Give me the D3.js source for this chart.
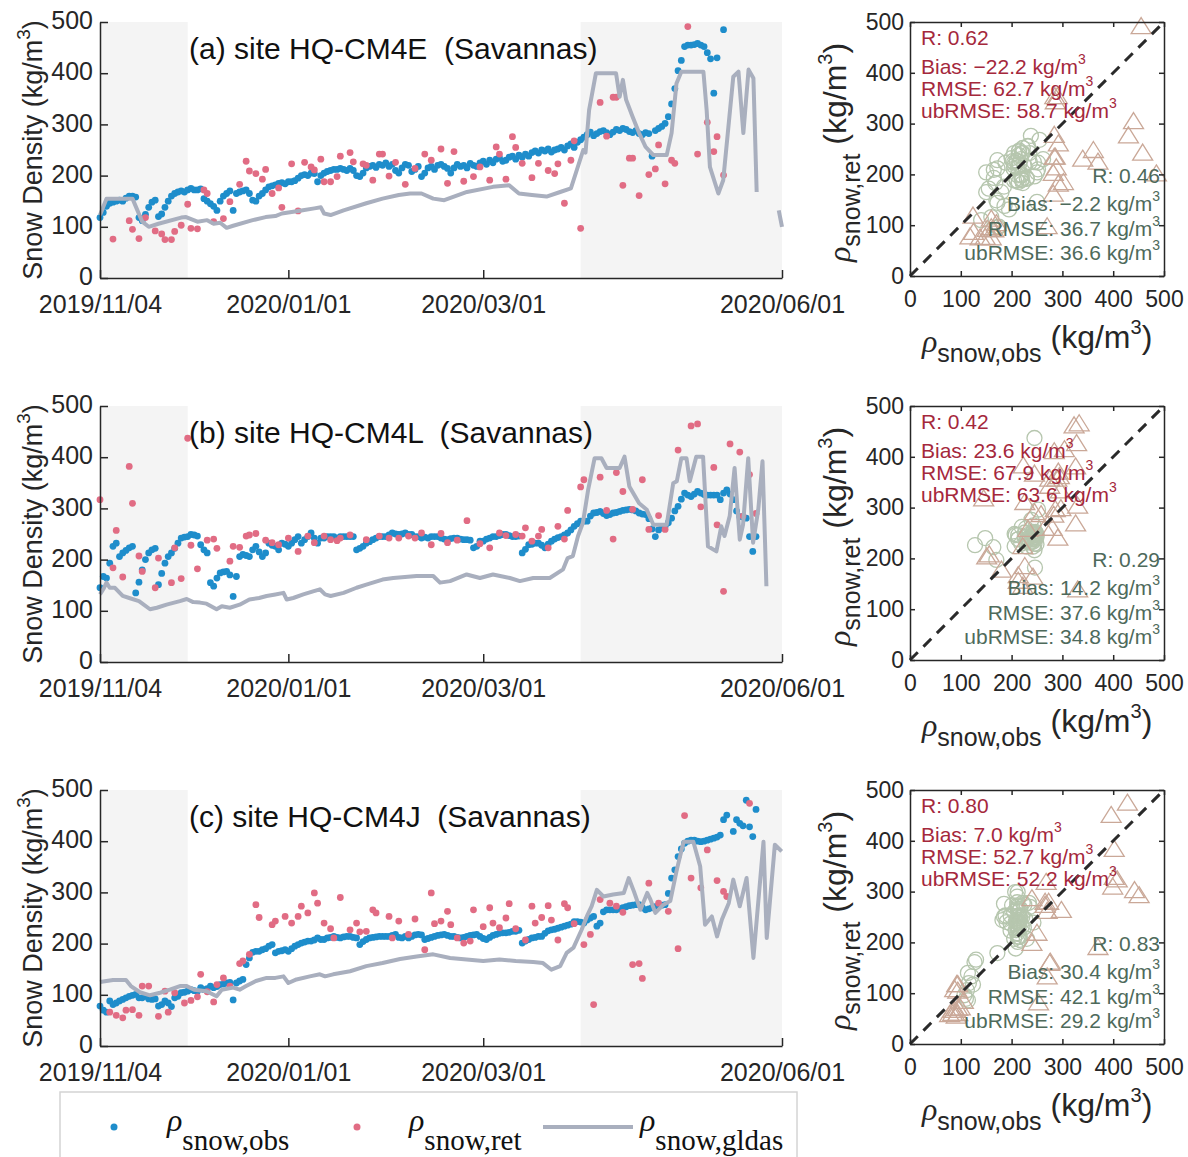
<!DOCTYPE html>
<html>
<head>
<meta charset="utf-8">
<script src="https://cdn.jsdelivr.net/npm/d3@7"></script>
<style>
  body { margin: 0; background: #fff; }
  svg { display: block; font-family: "Liberation Sans", Arial, sans-serif; }
</style>
</head>
<body>
<svg id="fig" width="1188" height="1157"></svg>
<script>
// ---- data ----
const dateTicks = ["2019/11/04", "2020/01/01", "2020/03/01", "2020/06/01"];
const densityTicks = [0, 100, 200, 300, 400, 500];
const shadePeriods = [["2019/11/04", "2019/12/01"], ["2020/03/31", "2020/06/01"]];
const titles = ["(a) site HQ-CM4E  (Savannas)", "(b) site HQ-CM4L  (Savannas)", "(c) site HQ-CM4J  (Savannas)"];

// observed density, one value per day from 2019/11/04
const obsA = [118,128,140,146,148,150,152,150,156,160,
  160,158,118,112,124,138,148,152,120,125,
  138,150,160,165,168,170,168,172,175,172,
  172,174,155,150,145,140,132,150,160,165,
  170,132,165,168,170,172,165,152,150,160,
  165,172,178,180,182,185,186,184,188,188,
  190,195,200,202,200,205,204,188,200,205,
  208,210,212,212,214,212,210,214,210,200,
  198,205,215,218,220,216,222,220,225,218,
  222,210,205,215,222,220,208,212,218,198,
  205,215,218,212,220,222,218,214,205,215,
  222,218,220,215,224,220,218,225,228,222,
  230,225,232,235,228,230,236,238,232,240,
  236,242,238,245,248,244,250,248,252,246,
  250,252,255,250,258,262,255,265,270,275,
  280,285,278,282,286,288,284,280,285,290,
  288,292,290,286,284,288,282,280,284,282,
  238,288,292,296,302,315,340,370,405,425,
  452,455,455,456,458,455,452,440,428,361,
  430,null,485];
const obsB = [145,167,164,193,226,232,206,213,218,223,
  226,135,156,180,200,213,219,222,151,173,
  193,206,213,222,232,242,244,245,249,248,
  246,229,219,213,155,148,164,174,176,177,
  170,128,167,206,210,208,206,219,226,215,
  206,213,232,228,226,219,232,230,226,232,
  239,245,232,239,245,252,242,232,242,242,
  245,245,245,242,245,245,245,245,245,219,
  222,226,232,235,239,242,245,245,245,248,
  252,250,249,250,252,249,249,245,245,242,
  244,242,245,245,245,242,240,239,241,242,
  242,240,239,239,238,223,226,236,236,240,
  242,245,245,247,249,249,247,245,245,246,
  213,220,229,230,232,232,228,223,230,236,
  240,243,245,248,252,258,265,270,275,275,
  275,285,291,292,294,290,286,288,291,292,
  294,296,297,298,297,295,291,289,288,280,
  260,245,258,262,265,272,281,295,304,318,
  330,326,323,328,333,330,327,326,326,326,
  326,317,330,336,328,317,295,284,283,281,
  245,216,245];
const obsC = [78,70,66,88,81,84,88,91,94,97,
  99,101,94,94,97,92,91,92,78,81,
  88,84,77,94,97,104,105,107,110,108,
  107,114,110,112,117,114,116,120,121,123,
  124,90,123,127,130,159,172,183,185,185,
  188,190,195,198,182,185,186,188,185,190,
  195,198,201,203,205,205,207,211,208,208,
  211,212,214,212,211,213,214,214,212,211,
  198,204,208,211,212,213,214,214,214,214,
  216,218,212,211,214,211,214,217,218,217,
  208,210,212,214,216,217,218,216,214,214,
  212,211,212,214,216,217,218,214,210,208,
  212,216,218,220,221,221,222,224,224,226,
  201,205,208,211,212,214,214,220,225,227,
  228,230,232,234,236,238,243,243,242,240,
  246,250,253,234,240,262,266,266,266,266,
  268,270,272,274,275,276,276,270,266,268,
  270,272,273,275,276,298,328,344,370,385,
  396,400,402,402,400,399,400,402,404,406,
  408,412,442,451,null,419,442,435,430,480,
  428,409,462];

// retrieved density, [day, value]
const retA = [[4,76],[9,112],[10,95],[12,77],[14,118],[17,92],[19,86],[20,75],[22,75],[23,91],[25,103],[27,144],[28,97],[30,96],[32,172],[33,165],[35,110],[38,116],[40,149],[43,183],[45,228],[46,209],[48,204],[50,193],[51,212],[53,165],[55,176],[56,138],[59,223],[61,131],[63,226],[65,217],[66,211],[68,232],[69,188],[71,188],[73,198],[74,238],[77,245],[78,227],[81,223],[82,220],[84,191],[86,242],[87,242],[89,199],[91,226],[94,183],[97,214],[100,242],[102,230],[105,252],[107,185],[109,247],[112,189],[115,198],[117,217],[120,191],[122,256],[123,242],[125,193],[127,276],[128,255],[130,224],[133,196],[135,224],[138,210],[140,204],[141,223],[143,146],[145,230],[146,268],[148,97],[154,343],[156,277],[158,353],[159,353],[161,181],[163,234],[164,234],[166,161],[169,202],[171,213],[172,260],[174,184],[176,230],[177,224],[181,491],[184,242],[187,304],[189,247],[190,276],[192,201]];
const retB = [[0,317],[4,184],[5,257],[7,166],[9,382],[10,310],[12,207],[13,177],[17,145],[18,203],[22,155],[23,223],[25,163],[27,437],[28,228],[30,182],[33,238],[35,240],[36,222],[40,197],[41,226],[43,224],[45,246],[46,248],[48,251],[51,238],[53,233],[55,229],[58,242],[61,216],[64,246],[66,233],[69,246],[71,239],[73,237],[74,242],[77,248],[82,239],[86,246],[89,242],[92,242],[95,246],[97,242],[99,252],[102,229],[105,251],[107,233],[110,238],[113,276],[117,231],[120,223],[123,252],[125,247],[128,249],[130,246],[131,262],[133,236],[135,246],[136,259],[138,223],[141,265],[143,240],[144,296],[148,342],[149,356],[154,361],[156,296],[158,240],[159,370],[161,333],[164,298],[167,356],[169,259],[172,286],[174,259],[178,414],[182,461],[184,465],[185,303],[189,380],[190,268],[192,138],[194,426],[197,410],[198,285],[200,366],[202,290]];
const retC = [[3,66],[5,60],[7,55],[8,70],[10,71],[12,60],[13,117],[15,117],[18,58],[20,107],[21,66],[23,104],[26,84],[28,89],[30,96],[31,140],[33,106],[35,86],[36,120],[38,133],[40,117],[43,161],[44,166],[46,179],[48,276],[49,251],[53,237],[54,244],[57,253],[59,240],[61,253],[62,273],[64,260],[66,299],[67,279],[69,240],[71,229],[72,211],[74,290],[77,227],[79,240],[80,223],[82,224],[84,266],[85,260],[89,253],[90,211],[92,244],[95,218],[97,248],[100,188],[102,299],[103,239],[105,244],[107,263],[108,237],[110,211],[112,201],[114,205],[115,266],[118,233],[120,270],[121,240],[123,231],[125,250],[126,278],[128,229],[131,207],[133,273],[134,240],[136,251],[138,274],[139,246],[141,207],[143,278],[144,270],[146,239],[149,198],[151,218],[152,81],[154,286],[157,279],[159,273],[161,261],[164,159],[166,161],[167,132],[169,318],[172,279],[175,263],[178,190],[180,450],[182,328],[185,309],[187,383],[190,323],[192,302],[193,292],[200,474]];

// GLDAS density line vertices, [day, value]; null breaks the line
const gldasA = [[0,123],[2,155],[10,155],[13,110],[15,100],[18,106],[25,118],[26.5,119],[30,110],[33,113],[35,106],[37,108],[39,98],[41,102],[47,113],[51,119],[54,121],[56,126],[62,132],[66,136],[68,138],[69,126],[71,123],[75,132],[82,146],[87,155],[92,162],[95.5,165],[99,165],[102.6,155],[106,152],[113,168],[121,178],[126,181],[129,165],[133,162],[137.5,159],[141.7,168],[145,175],[148.8,250],[149.5,245],[150.6,328],[152.7,400],[158.9,400],[160,354],[161,387],[162,348],[164,315],[166,283],[168,256],[170.4,240],[174.5,240],[176,283],[177.5,380],[179,403],[185.8,403],[186.8,328],[187.8,217],[190.4,165],[191.9,191],[195,393],[196.6,403],[198.1,283],[199.7,407],[201.2,390],[202.2,168],null,[209,132],[210,100]];
const gldasB = [[0,132],[1,142],[2,155],[3,145],[4.6,145],[7,129],[9,125],[12,119],[15.4,103],[17.5,106],[20.5,112],[24.6,119],[26.7,123],[28.7,117],[30.8,116],[32.8,114],[35.9,103],[37.5,109],[40,106],[43,112],[46,122],[49,125],[51.3,129],[54,132],[56.5,135],[57.5,122],[59.5,125],[62.6,132],[65.6,138],[67.7,142],[69.3,132],[71,129],[75,135],[79,145],[82,151],[87,161],[90.3,164],[97.5,168],[102.6,168],[104.7,155],[107.8,158],[112.9,171],[117,164],[121,171],[126.2,164],[129.3,158],[133.4,164],[138.5,164],[142.6,181],[144,203],[145.6,207],[147.2,246],[148.7,272],[150.3,336],[152.3,398],[154.4,398],[156,379],[160,379],[161.5,401],[163,343],[166,310],[168.3,298],[170.4,268],[174.5,268],[176.5,349],[177.6,353],[179,398],[180.6,398],[181.6,353],[183.6,401],[185.7,401],[187.2,226],[189.8,216],[191.3,265],[192.3,246],[193.9,285],[195.4,379],[197,239],[198,268],[199.6,398],[201.1,233],[202.7,298],[204,392],[205.2,148]];
const gldasC = [[0,125],[4,129],[8,129],[9.5,117],[12.3,105],[15.4,99],[18.5,104],[21.5,110],[24.6,117],[26.7,117],[29,110],[32.8,107],[35.9,97],[37.5,110],[41,114],[43,110],[45,117],[48,127],[51.3,133],[54,133],[56.5,136],[58,123],[60.5,130],[64.6,136],[67.7,140],[69.3,136],[71.8,140],[77,146],[82,156],[87,162],[92.4,170],[97.5,175],[102.6,179],[107.8,172],[112.9,169],[118,166],[123,169],[128,166],[133.4,164],[136.4,162],[139,149],[141.7,156],[143.7,182],[145.8,192],[148.3,227],[149.9,253],[151.4,273],[153,305],[155,292],[158,296],[161.3,299],[162.8,328],[164.4,302],[166.4,266],[168.5,299],[169.5,286],[171,260],[173.5,276],[175.6,283],[177.6,344],[179.7,399],[182.7,399],[184.8,351],[186.3,237],[188.4,253],[190,214],[191.5,247],[193.6,279],[195,325],[197,273],[199.1,328],[201.2,172],[204.3,399],[205.3,211],[207.8,393],[209.9,380]];

const statsRed = [
  ["R: 0.62", "Bias: \u221222.2 kg/m", "RMSE: 62.7 kg/m", "ubRMSE: 58.7 kg/m"],
  ["R: 0.42", "Bias: 23.6 kg/m", "RMSE: 67.9 kg/m", "ubRMSE: 63.6 kg/m"],
  ["R: 0.80", "Bias: 7.0 kg/m", "RMSE: 52.7 kg/m", "ubRMSE: 52.2 kg/m"]];
const statsGreen = [
  ["R: 0.46", "Bias: \u22122.2 kg/m", "RMSE: 36.7 kg/m", "ubRMSE: 36.6 kg/m"],
  ["R: 0.29", "Bias: 14.2 kg/m", "RMSE: 37.6 kg/m", "ubRMSE: 34.8 kg/m"],
  ["R: 0.83", "Bias: 30.4 kg/m", "RMSE: 42.1 kg/m", "ubRMSE: 29.2 kg/m"]];

const obs = [obsA, obsB, obsC];
const ret = [retA, retB, retC];
const gldas = [gldasA, gldasB, gldasC];

// ---- layout / styles ----
const axisColor = "#262626";
const blue = "#1e8dcb", red = "#e16c84", gray = "#a9afbe";
const circColor = "#b6c6ae", triColor = "#caa898";
const rowTop = [22, 406, 790];
const tsLeft = 100, W = 682, H = 256;
const scLeft = 910, S = 254;

const svg = d3.select("#fig");
const parseDate = d3.utcParse("%Y/%m/%d");
const t0 = parseDate(dateTicks[0]);
const dayToDate = d => new Date(t0.getTime() + d * 864e5);
const dateToDay = dt => (dt.getTime() - t0.getTime()) / 864e5;

const x = d3.scaleUtc()
  .domain([parseDate(dateTicks[0]), parseDate(dateTicks[dateTicks.length - 1])])
  .range([0, W]);
const y = d3.scaleLinear().domain([0, 500]).range([H, 0]);
const sx = d3.scaleLinear().domain([0, 500]).range([0, S]);
const sy = d3.scaleLinear().domain([0, 500]).range([S, 0]);

const shadeDays = shadePeriods.map(p => p.map(s => dateToDay(parseDate(s))));
const inShade = d => shadeDays.some(([a, b]) => d >= a && d < b);

function styleAxis(g, size) {
  g.attr("font-family", null).attr("font-size", size);
  g.selectAll("path, line").attr("stroke", axisColor).attr("stroke-width", 1.5);
  g.selectAll("text").attr("fill", axisColor);
}

// add "kg/m" + superscript 3 endings
function unitText(sel, str, supSize, supDy) {
  if (str.endsWith("kg/m")) {
    sel.append("tspan").text(str);
    sel.append("tspan").attr("font-size", supSize).attr("dy", -supDy).text("3");
  } else {
    sel.text(str);
  }
}

function drawSeries(i) {
  const g = svg.append("g").attr("transform", `translate(${tsLeft},${rowTop[i]})`);

  g.selectAll("rect.shade")
    .data(shadePeriods)
    .join("rect")
      .attr("class", "shade")
      .attr("x", d => x(parseDate(d[0])))
      .attr("width", d => x(parseDate(d[1])) - x(parseDate(d[0])))
      .attr("y", y(500))
      .attr("height", y(0) - y(500))
      .attr("fill", "#f4f4f4");

  const obsPts = obs[i].map((v, d) => [d, v]).filter(p => p[1] != null);
  g.append("g").selectAll("circle")
    .data(obsPts)
    .join("circle")
      .attr("cx", d => x(dayToDate(d[0])))
      .attr("cy", d => y(d[1]))
      .attr("r", 3.4)
      .attr("fill", blue);

  g.append("g").selectAll("circle")
    .data(ret[i])
    .join("circle")
      .attr("cx", d => x(dayToDate(d[0])))
      .attr("cy", d => y(d[1]))
      .attr("r", 3.4)
      .attr("fill", red);

  const line = d3.line()
    .defined(d => d !== null)
    .x(d => x(dayToDate(d[0])))
    .y(d => y(d[1]));
  g.append("path")
    .datum(gldas[i])
    .attr("d", line)
    .attr("fill", "none")
    .attr("stroke", gray)
    .attr("stroke-width", 4)
    .attr("stroke-linejoin", "round");

  g.append("g")
    .attr("transform", `translate(0,${H})`)
    .call(d3.axisBottom(x)
      .tickValues(dateTicks.map(parseDate))
      .tickFormat(d3.utcFormat("%Y/%m/%d"))
      .tickSizeInner(-8).tickSizeOuter(0).tickPadding(17))
    .call(g => styleAxis(g, 25));

  g.append("g")
    .call(d3.axisLeft(y)
      .tickValues(densityTicks)
      .tickSizeInner(-8).tickSizeOuter(0).tickPadding(7))
    .call(g => styleAxis(g, 25))
    .selectAll("text").attr("dy", "0.27em");

  g.append("text")
    .attr("x", 89).attr("y", 37)
    .style("white-space", "pre")
    .attr("font-size", 30)
    .attr("fill", "#111")
    .text(titles[i]);

  const yl = g.append("text")
    .attr("transform", `translate(-58,${H / 2}) rotate(-90)`)
    .attr("text-anchor", "middle")
    .attr("font-size", 27)
    .attr("fill", axisColor);
  yl.append("tspan").text("Snow Density (kg/m");
  yl.append("tspan").attr("font-size", 19).attr("dy", -12).text("3");
  yl.append("tspan").attr("dy", 12).text(")");
}

function rhoLabel(sel, sub, subSize) {
  sel.append("tspan").attr("font-family", "Liberation Serif").attr("font-style", "italic")
    .attr("dy", 4).text("\u03c1");
  sel.append("tspan").attr("font-size", subSize).attr("dy", 10).text(sub);
  sel.append("tspan").attr("dy", -14).text(" (kg/m");
  sel.append("tspan").attr("font-size", subSize * 0.8).attr("dy", -14).text("3");
  sel.append("tspan").attr("dy", 14).text(")");
}

function drawScatter(i) {
  const g = svg.append("g").attr("transform", `translate(${scLeft},${rowTop[i]})`);

  const pairs = ret[i]
    .filter(([d]) => obs[i][d] != null)
    .map(([d, v]) => ({ o: obs[i][d], r: v, tri: inShade(d) }));

  g.append("g").selectAll("circle")
    .data(pairs.filter(p => !p.tri))
    .join("circle")
      .attr("cx", d => sx(d.o))
      .attr("cy", d => sy(d.r))
      .attr("r", 7.5)
      .attr("fill", "none")
      .attr("stroke", circColor)
      .attr("stroke-width", 1.3);

  g.append("g").selectAll("path")
    .data(pairs.filter(p => p.tri))
    .join("path")
      .attr("transform", d => `translate(${sx(d.o)},${sy(d.r)})`)
      .attr("d", "M0,-9L10,7L-10,7Z")
      .attr("fill", "none")
      .attr("stroke", triColor)
      .attr("stroke-width", 1.3);

  g.append("line")
    .attr("x1", sx(0)).attr("y1", sy(0))
    .attr("x2", sx(500)).attr("y2", sy(500))
    .attr("stroke", "#2a2a2a")
    .attr("stroke-width", 3)
    .attr("stroke-dasharray", "11,8");

  g.append("g")
    .attr("transform", `translate(0,${S})`)
    .call(d3.axisBottom(sx).tickValues(densityTicks).tickSizeInner(-5).tickSizeOuter(0).tickPadding(15))
    .call(g => styleAxis(g, 23));
  g.append("g")
    .call(d3.axisLeft(sy).tickValues(densityTicks).tickSizeInner(-5).tickSizeOuter(0).tickPadding(6))
    .call(g => styleAxis(g, 23));
  g.append("g")
    .call(d3.axisTop(sx).tickValues(densityTicks).tickSizeInner(-5).tickSizeOuter(0).tickFormat(""))
    .call(g => styleAxis(g, 23));
  g.append("g")
    .attr("transform", `translate(${S},0)`)
    .call(d3.axisRight(sy).tickValues(densityTicks).tickSizeInner(-5).tickSizeOuter(0).tickFormat(""))
    .call(g => styleAxis(g, 23));

  statsRed[i].forEach((s, k) => {
    const t = g.append("text")
      .attr("x", 11).attr("y", [23, 52, 74, 96][k])
      .attr("font-size", 21).attr("fill", "#a5283c");
    unitText(t, s, 14, 10);
  });
  statsGreen[i].forEach((s, k) => {
    const t = g.append("text")
      .attr("x", S - 4).attr("y", [161, 189, 214, 238][k])
      .attr("text-anchor", "end")
      .attr("font-size", 21).attr("fill", "#4e6a5b");
    unitText(t, s, 14, 10);
  });

  const xl = g.append("text")
    .attr("x", 12).attr("y", S + 72)
    .attr("font-size", 32).attr("fill", axisColor);
  rhoLabel(xl, "snow,obs", 25);

  const yl = g.append("text")
    .attr("transform", `translate(-64,${S - 14}) rotate(-90)`)
    .attr("font-size", 32).attr("fill", axisColor);
  rhoLabel(yl, "snow,ret", 25);
}

function drawLegend() {
  const g = svg.append("g");
  g.append("rect")
    .attr("x", 60).attr("y", 1092).attr("width", 737).attr("height", 80)
    .attr("fill", "#fff").attr("stroke", "#d4d4d4").attr("stroke-width", 1.5);

  const items = [
    { type: "dot", color: blue, sub: "snow,obs", mx: 114, tx: 167 },
    { type: "dot", color: red, sub: "snow,ret", mx: 357, tx: 409 },
    { type: "line", color: gray, sub: "snow,gldas", mx: 543, tx: 640 }
  ];
  items.forEach(it => {
    if (it.type === "dot") {
      g.append("circle").attr("cx", it.mx).attr("cy", 1127).attr("r", 3.5).attr("fill", it.color);
    } else {
      g.append("line").attr("x1", it.mx).attr("x2", it.mx + 90)
        .attr("y1", 1127).attr("y2", 1127)
        .attr("stroke", it.color).attr("stroke-width", 4);
    }
    const t = g.append("text")
      .attr("x", it.tx).attr("y", 1131)
      .attr("font-family", "Liberation Serif")
      .attr("fill", "#111");
    t.append("tspan").attr("font-size", 32).attr("font-style", "italic").text("\u03c1");
    t.append("tspan").attr("font-size", 29).attr("dy", 19).text(it.sub);
  });
}

[0, 1, 2].forEach(i => { drawSeries(i); drawScatter(i); });
drawLegend();
</script>
</body>
</html>
